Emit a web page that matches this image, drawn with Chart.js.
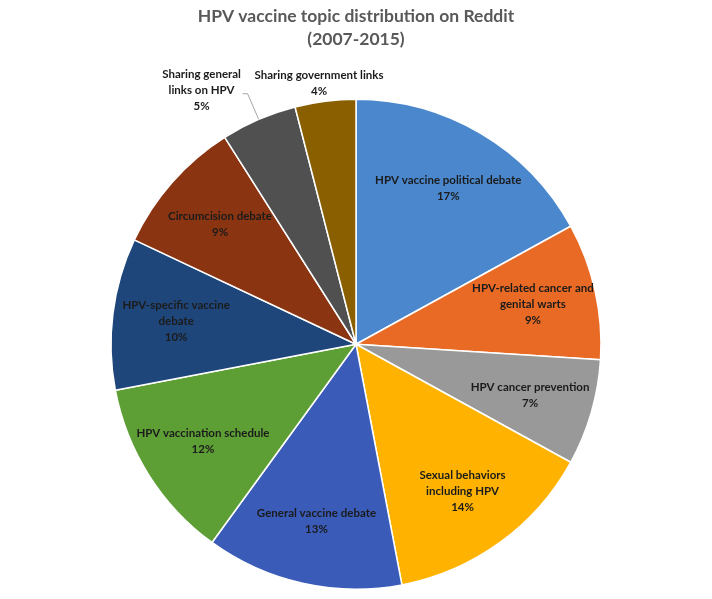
<!DOCTYPE html>
<html>
<head>
<meta charset="utf-8">
<script src="https://cdn.jsdelivr.net/npm/chart.js@4.4.0/dist/chart.umd.min.js"></script>
<style>
  html, body { margin: 0; padding: 0; background: #fff; }
  #wrap { width: 712px; height: 599px; }
</style>
</head>
<body>
<div id="wrap"><canvas id="pie"></canvas></div>
<script>
// topics, clockwise from 12 o'clock
const topics = [
    ["HPV vaccine political debate"],
    ["HPV-related cancer and", "genital warts"],
    ["HPV cancer prevention"],
    ["Sexual behaviors", "including HPV"],
    ["General vaccine debate"],
    ["HPV vaccination schedule"],
    ["HPV-specific vaccine", "debate"],
    ["Circumcision debate"],
    ["Sharing general", "links on HPV"],
    ["Sharing government links"]
];
const shares = [17, 9, 7, 14, 13, 12, 10, 9, 5, 4];

const colors = ["#4a87cc", "#e86a24", "#999999", "#ffb300", "#3a5cb8",
                "#5e9f35", "#1f467a", "#8b3412", "#505050", "#8a5f00"];

const labelFont = "bold 11.5px Lato";
const lineH = 16;

// draws the slice labels, small slices get theirs outside
const sliceLabels = {
    id: "sliceLabels",
    afterDatasetsDraw(chart) {
        const ctx = chart.ctx;
        const arcs = chart.getDatasetMeta(0).data;
        const total = shares.reduce((a, b) => a + b, 0);
        ctx.save();
        ctx.font = labelFont;
        ctx.fillStyle = "#1b1b1b";
        ctx.textAlign = "center";
        ctx.textBaseline = "middle";
        arcs.forEach((arc, i) => {
            const p = arc.getProps(["x", "y", "startAngle", "endAngle", "outerRadius"], true);
            const mid = (p.startAngle + p.endAngle) / 2;
            const lines = topics[i].concat([Math.round(shares[i] / total * 100) + "%"]);
            const cos = Math.cos(mid), sin = Math.sin(mid);
            let cx, cy;
            if (shares[i] >= 6) {
                const f = 0.74;
                cx = p.x + cos * p.outerRadius * f;
                cy = p.y + sin * p.outerRadius * f;
            } else if (i === topics.length - 1) {
                cx = p.x + cos * (p.outerRadius + 18) - 4;
                cy = p.y + sin * (p.outerRadius + 18);
            } else {
                const x0 = p.x + cos * p.outerRadius, y0 = p.y + sin * p.outerRadius;
                const x1 = p.x + cos * (p.outerRadius + 28), y1 = p.y + sin * (p.outerRadius + 28);
                ctx.strokeStyle = "#a6a6a6";
                ctx.lineWidth = 1;
                ctx.beginPath();
                ctx.moveTo(x0, y0);
                ctx.lineTo(x1, y1);
                ctx.lineTo(x1 - 5, y1);
                ctx.stroke();
                cx = x1 - 46;
                cy = y1 - 3;
            }
            const top = cy - (lines.length - 1) * lineH / 2;
            lines.forEach((t, k) => ctx.fillText(t, cx, top + k * lineH));
        });
        ctx.restore();
    }
};

new Chart(document.getElementById("pie"), {
    type: "pie",
    data: {
        labels: topics,
        datasets: [{
            data: shares,
            backgroundColor: colors,
            borderColor: "#ffffff",
            borderWidth: 1.5
        }]
    },
    options: {
        responsive: true,
        maintainAspectRatio: false,
        animation: false,
        layout: { padding: { top: 0, bottom: 9, left: 0, right: 0 } },
        plugins: {
            legend: { display: false },
            tooltip: { enabled: false },
            title: {
                display: true,
                text: ["HPV vaccine topic distribution on Reddit", "(2007-2015)"],
                color: "#595959",
                font: { family: "Lato", size: 17.5, weight: "bold", lineHeight: 1.3 },
                padding: { top: 5, bottom: 48 }
            }
        }
    },
    plugins: [sliceLabels]
});
</script>
</body>
</html>
